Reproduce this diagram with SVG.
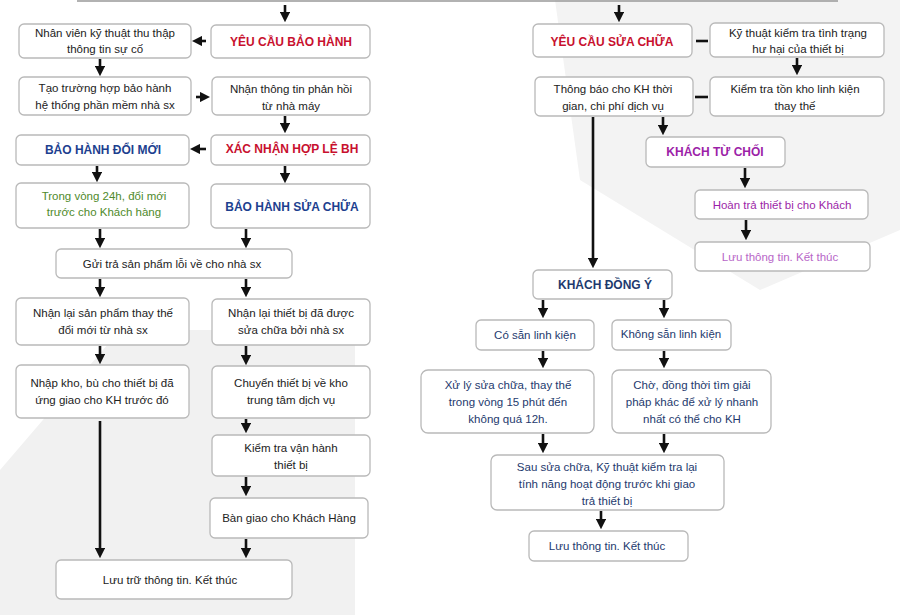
<svg xmlns="http://www.w3.org/2000/svg" width="900" height="615" viewBox="0 0 900 615">
<style>
.b{fill:#fff;stroke:#b9b9b9;stroke-width:1.3}
text{font-family:"Liberation Sans",Arial,sans-serif;font-size:11.5px;text-anchor:middle;fill:#222}
.h{font-weight:bold;font-size:12px}
.red{fill:#c8102e}.blue{fill:#1d3f8f}.grn{fill:#4f8a2b}.pur{fill:#9c1fa8}.lp{fill:#b866c8}.nv{fill:#1e3a6e}
.c line{stroke:#111;stroke-width:2.6;marker-end:url(#a)}
.c line.n{marker-end:none}
</style>
<defs><marker id="a" markerWidth="4" markerHeight="4" refX="2" refY="2" orient="auto" markerUnits="strokeWidth"><path d="M0,0L4,2L0,4z" fill="#111"/></marker></defs>
<rect width="900" height="615" fill="#fff"/>
<path d="M0,470 L120,330 L355,330 L355,615 L0,615z" fill="#f1f1f1"/>
<path d="M555,0 L900,0 L900,230 L760,290 L580,180z" fill="#f3f3f3"/>
<line x1="77" y1="1" x2="838" y2="1" stroke="#999" stroke-width="1.5"/>
<g class="c">
<line x1="285" y1="5" x2="285" y2="17"/><line x1="619" y1="5" x2="619" y2="17"/>
<line x1="206" y1="41" x2="197" y2="41"/><line x1="100" y1="59" x2="100" y2="71"/>
<line x1="196" y1="97" x2="205" y2="97"/><line x1="285" y1="116" x2="285" y2="128"/>
<line x1="206" y1="149" x2="195" y2="149"/><line x1="285" y1="166" x2="285" y2="178"/>
<line x1="97" y1="166" x2="97" y2="177"/><line x1="100" y1="229" x2="100" y2="243"/>
<line x1="246" y1="229" x2="246" y2="243"/><line x1="100" y1="279" x2="100" y2="292"/>
<line x1="246" y1="279" x2="246" y2="292"/><line x1="100" y1="346" x2="100" y2="359"/>
<line x1="246" y1="346" x2="246" y2="360"/><line x1="100" y1="421" x2="100" y2="553"/>
<line x1="246" y1="419" x2="246" y2="428"/><line x1="246" y1="477" x2="246" y2="491"/>
<line x1="246" y1="539" x2="246" y2="553"/>
<line x1="696" y1="41" x2="708" y2="41" class="n"/><line x1="797" y1="58" x2="797" y2="70"/>
<line x1="708" y1="97" x2="695" y2="97" class="n"/><line x1="593" y1="117" x2="593" y2="263"/>
<line x1="663" y1="117" x2="663" y2="130"/><line x1="745" y1="168" x2="745" y2="183"/>
<line x1="746" y1="220" x2="746" y2="235"/><line x1="543" y1="300" x2="543" y2="313"/>
<line x1="664" y1="300" x2="664" y2="313"/><line x1="543" y1="351" x2="543" y2="363"/>
<line x1="664" y1="351" x2="664" y2="363"/><line x1="543" y1="434" x2="543" y2="448"/>
<line x1="664" y1="434" x2="664" y2="448"/><line x1="601" y1="511" x2="601" y2="524"/>
</g>
<g id="n1"><rect class="b" x="19" y="24" width="172" height="34" rx="5"/><text x="105" y="37">Nhân viên kỹ thuật thu thập</text><text x="105" y="53">thông tin sự cố</text></g>
<g id="n2"><rect class="b" x="211" y="25" width="159" height="33" rx="5"/><text class="h red" x="291" y="46">YÊU CẦU BẢO HÀNH</text></g>
<g id="n3"><rect class="b" x="19" y="77" width="172" height="38" rx="5"/><text x="105" y="92">Tạo trường hợp bảo hành</text><text x="105" y="109">hệ thống phần mềm nhà sx</text></g>
<g id="n4"><rect class="b" x="212" y="77" width="158" height="38" rx="5"/><text x="291" y="93">Nhận thông tin phản hồi</text><text x="291" y="110">từ nhà máy</text></g>
<g id="n5"><rect class="b" x="16" y="135" width="173" height="30" rx="5"/><text class="h blue" x="103" y="154">BẢO HÀNH ĐỔI MỚI</text></g>
<g id="n6"><rect class="b" x="211" y="135" width="159" height="30" rx="5"/><text class="h red" x="292" y="153">XÁC NHẬN HỢP LỆ BH</text></g>
<g id="n7"><rect class="b" x="16" y="183" width="173" height="45" rx="5"/><text class="grn" x="104" y="200">Trong vòng 24h, đổi mới</text><text class="grn" x="104" y="216">trước cho Khách hàng</text></g>
<g id="n8"><rect class="b" x="211" y="184" width="159" height="44" rx="5"/><text class="h blue" x="292" y="211">BẢO HÀNH SỬA CHỮA</text></g>
<g id="n9"><rect class="b" x="56" y="249" width="236" height="29" rx="5"/><text x="172" y="268">Gửi trả sản phẩm lỗi về cho nhà sx</text></g>
<g id="n10"><rect class="b" x="16" y="298" width="173" height="47" rx="5"/><text x="103" y="317">Nhận lại sản phẩm thay thế</text><text x="103" y="334">đổi mới từ nhà sx</text></g>
<g id="n11"><rect class="b" x="212" y="299" width="158" height="46" rx="5"/><text x="291" y="317">Nhận lại thiết bị đã được</text><text x="291" y="334">sửa chữa bởi nhà sx</text></g>
<g id="n12"><rect class="b" x="16" y="365" width="173" height="53" rx="5"/><text x="102" y="387">Nhập kho, bù cho thiết bị đã</text><text x="102" y="404">ứng giao cho KH trước đó</text></g>
<g id="n13"><rect class="b" x="212" y="366" width="158" height="52" rx="5"/><text x="291" y="387">Chuyển thiết bị về kho</text><text x="291" y="404">trung tâm dịch vụ</text></g>
<g id="n14"><rect class="b" x="212" y="435" width="158" height="41" rx="5"/><text x="291" y="452">Kiểm tra vận hành</text><text x="291" y="469">thiết bị</text></g>
<g id="n15"><rect class="b" x="210" y="498" width="158" height="40" rx="5"/><text x="289" y="522">Bàn giao cho Khách Hàng</text></g>
<g id="n16"><rect class="b" x="56" y="560" width="236" height="39" rx="5"/><text x="170" y="584">Lưu trữ thông tin. Kết thúc</text></g>
<g id="r1"><rect class="b" x="533" y="24" width="159" height="33" rx="5"/><text class="h red" x="612" y="46">YÊU CẦU SỬA CHỮA</text></g>
<g id="r2"><rect class="b" x="710" y="23" width="174" height="34" rx="5"/><text x="798" y="37">Kỹ thuật kiểm tra tình trạng</text><text x="798" y="53">hư hại của thiết bị</text></g>
<g id="r3"><rect class="b" x="535" y="77" width="158" height="39" rx="5"/><text x="613" y="93">Thông báo cho KH thời</text><text x="613" y="110">gian, chi phí dịch vụ</text></g>
<g id="r4"><rect class="b" x="710" y="77" width="174" height="39" rx="5"/><text x="795" y="93">Kiểm tra tồn kho linh kiện</text><text x="795" y="110">thay thế</text></g>
<g id="r5"><rect class="b" x="646" y="137" width="139" height="30" rx="5"/><text class="h pur" x="715" y="156">KHÁCH TỪ CHỐI</text></g>
<g id="r6"><rect class="b" x="695" y="190" width="173" height="29" rx="5"/><text class="pur" x="782" y="209">Hoàn trả thiết bị cho Khách</text></g>
<g id="r7"><rect class="b" x="695" y="242" width="175" height="29" rx="5"/><text class="lp" x="780" y="261">Lưu thông tin. Kết thúc</text></g>
<g id="r8"><rect class="b" x="533" y="270" width="139" height="29" rx="5"/><text class="h nv" x="605" y="289">KHÁCH ĐỒNG Ý</text></g>
<g id="r9"><rect class="b" x="476" y="320" width="118" height="30" rx="5"/><text class="nv" x="535" y="339">Có sẵn linh kiện</text></g>
<g id="r10"><rect class="b" x="612" y="320" width="119" height="30" rx="5"/><text class="nv" x="671" y="338">Không sẵn linh kiện</text></g>
<g id="r11"><rect class="b" x="421" y="370" width="173" height="63" rx="7"/><text class="nv" x="508" y="389">Xử lý sửa chữa, thay thế</text><text class="nv" x="508" y="406">trong vòng 15 phút đến</text><text class="nv" x="508" y="423">không quá 12h.</text></g>
<g id="r12"><rect class="b" x="612" y="370" width="159" height="63" rx="7"/><text class="nv" x="692" y="389">Chờ, đồng thời tìm giải</text><text class="nv" x="692" y="406">pháp khác để xử lý nhanh</text><text class="nv" x="692" y="423">nhất có thể cho KH</text></g>
<g id="r13"><rect class="b" x="491" y="455" width="233" height="55" rx="6"/><text class="nv" x="607" y="471">Sau sửa chữa, Kỹ thuật kiểm tra lại</text><text class="nv" x="607" y="488">tính năng hoạt động trước khi giao</text><text class="nv" x="607" y="505">trả thiết bị</text></g>
<g id="r14"><rect class="b" x="529" y="531" width="159" height="30" rx="5"/><text class="nv" x="607" y="550">Lưu thông tin. Kết thúc</text></g>
</svg>
